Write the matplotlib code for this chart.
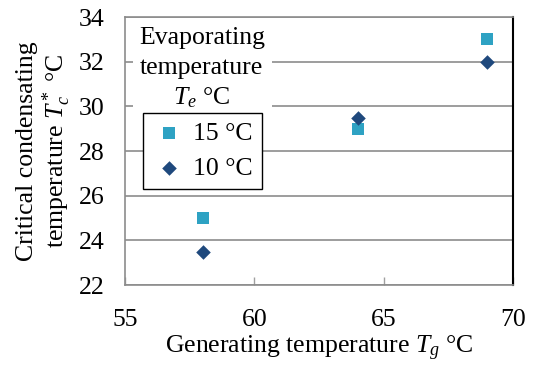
import numpy as np
import matplotlib.pyplot as plt
from matplotlib.patches import Rectangle

plt.rcParams['font.family'] = ['Liberation Serif', 'DejaVu Serif']
plt.rcParams['mathtext.fontset'] = 'custom'
plt.rcParams['mathtext.rm'] = 'Liberation Serif'
plt.rcParams['mathtext.it'] = 'Liberation Serif:italic'

# dados
tg = [58, 64, 69]
tc_15 = [25, 29, 33]
tc_10 = [23.5, 29.5, 32]
series = ['15 °C', '10 °C']
x_ticks = [55, 60, 65, 70]
y_ticks = [22, 24, 26, 28, 30, 32, 34]

fs = 18.5

fig = plt.figure(figsize=(5.33, 3.65), dpi=100)
ax = fig.add_axes([0.2345, 0.219, 0.728, 0.734])

ax.scatter(tg, tc_15, marker='s', s=80, color='#2EA2C3', label=series[0], zorder=3, linewidths=0)
ax.scatter(tg, tc_10, marker='D', s=55, color='#1F497D', label=series[1], zorder=3, linewidths=0)

ax.set_xlim(55, 70)
ax.set_ylim(22, 34)
ax.set_xticks(x_ticks)
ax.set_yticks(y_ticks)
ax.yaxis.grid(True, color='#8C8C8C', linewidth=1.2)
ax.set_axisbelow(True)
ax.tick_params(axis='x', direction='in', length=6, width=1, color='#A0A0A0', labelsize=fs, pad=17)
ax.tick_params(axis='y', length=0, labelsize=fs, pad=15)
for s in ['left', 'bottom', 'top']:
    ax.spines[s].set_color('#8C8C8C')
    ax.spines[s].set_linewidth(1.2)
ax.spines['right'].set_color('black')
ax.spines['right'].set_linewidth(1.5)

ax.set_xlabel('Generating temperature $T_g$ °C', fontsize=fs, labelpad=2)
ax.set_ylabel('Critical condensating\ntemperature $T_c^*$ °C', fontsize=fs, labelpad=4,
              linespacing=1.1)

# caixa do titulo da legenda
ax.add_patch(Rectangle((0.02, 0.642), 0.36, 0.355, transform=ax.transAxes,
                       facecolor='white', edgecolor='none', zorder=4))
ax.text(0.198, 0.922, 'Evaporating', transform=ax.transAxes, ha='center', va='center',
        fontsize=fs, zorder=5)
ax.text(0.198, 0.810, 'temperature', transform=ax.transAxes, ha='center', va='center',
        fontsize=fs, zorder=5)
ax.text(0.198, 0.698, '$T_e$ °C', transform=ax.transAxes, ha='center', va='center',
        fontsize=fs, zorder=5)

leg = ax.legend(loc='upper left', bbox_to_anchor=(0.046, 0.642), fontsize=fs,
                frameon=True, fancybox=False, edgecolor='black', framealpha=1,
                handletextpad=0.3, handlelength=1.3, borderpad=0.35,
                labelspacing=0.45, borderaxespad=0)
leg.get_frame().set_linewidth(1.0)
leg.set_zorder(6)

plt.savefig('out.png', dpi=100)
